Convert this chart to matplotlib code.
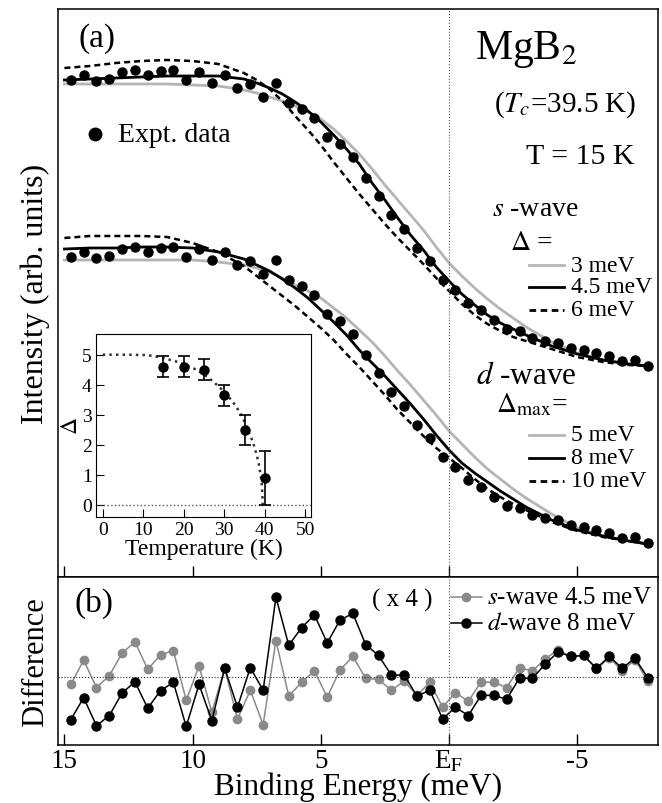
import numpy as np
import matplotlib
matplotlib.use('Agg')
import matplotlib.pyplot as plt
from matplotlib.lines import Line2D

plt.rcParams['font.family'] = ['Liberation Serif', 'DejaVu Serif']
plt.rcParams['mathtext.fontset'] = 'stix'

# expt. points, binding energy (meV)
energy = [14.75, 14.25, 13.75, 13.25, 12.75, 12.25, 11.75, 11.25, 10.75, 10.25,
          9.75, 9.25, 8.75, 8.25, 7.75, 7.25, 6.75, 6.25, 5.75, 5.25,
          4.75, 4.25, 3.75, 3.25, 2.75, 2.25, 1.75, 1.25, 0.75, 0.25,
          -0.25, -0.75, -1.25, -1.75, -2.25, -2.75, -3.25, -3.75, -4.25, -4.75,
          -5.25, -5.75, -6.25, -6.75, -7.25, -7.75]
expt = [4.99, 5.04, 4.98, 5.00, 5.07, 5.09, 5.04, 5.08, 5.09, 4.99,
        5.07, 4.96, 5.04, 4.91, 4.95, 4.82, 4.96, 4.76, 4.70, 4.61,
        4.42, 4.35, 4.22, 4.01, 3.83, 3.64, 3.50, 3.31, 3.18, 2.99,
        2.89, 2.76, 2.69, 2.59, 2.50, 2.48, 2.41, 2.38, 2.36, 2.31,
        2.29, 2.26, 2.23, 2.18, 2.19, 2.13]
d_offset = 1.77   # vertical shift of the d-wave set

# fit curves
e_fit = [15, 14, 13, 12, 11, 10, 9, 8, 7.5, 7, 6.5, 6, 5.5, 5, 4.5, 4, 3.5, 3,
         2.5, 2, 1.5, 1, 0.5, 0, -0.5, -1, -1.5, -2, -2.5, -3, -4, -5, -6, -7, -7.75]
s_3 = [4.95, 4.95, 4.95, 4.95, 4.95, 4.94, 4.93, 4.89, 4.86, 4.82, 4.78, 4.73,
       4.67, 4.60, 4.50, 4.38, 4.25, 4.10, 3.94, 3.79, 3.64, 3.49, 3.32, 3.16,
       3.03, 2.91, 2.80, 2.70, 2.61, 2.52, 2.37, 2.26, 2.19, 2.15, 2.13]
s_45 = [4.99, 5.00, 5.01, 5.02, 5.03, 5.03, 5.03, 5.00, 4.96, 4.91, 4.85, 4.77,
        4.68, 4.57, 4.44, 4.30, 4.15, 3.96, 3.79, 3.61, 3.44, 3.29, 3.12, 2.98,
        2.85, 2.74, 2.64, 2.56, 2.50, 2.44, 2.33, 2.25, 2.19, 2.15, 2.13]
s_6 = [5.11, 5.13, 5.16, 5.18, 5.19, 5.18, 5.15, 5.06, 4.99, 4.90, 4.78, 4.63,
       4.49, 4.34, 4.17, 4.01, 3.85, 3.70, 3.55, 3.41, 3.28, 3.15, 3.01, 2.88,
       2.75, 2.64, 2.55, 2.48, 2.42, 2.38, 2.30, 2.22, 2.17, 2.14, 2.13]
d_5 = [4.96, 4.96, 4.96, 4.96, 4.96, 4.96, 4.94, 4.91, 4.88, 4.84, 4.78, 4.71,
       4.65, 4.58, 4.48, 4.38, 4.26, 4.14, 4.00, 3.85, 3.71, 3.56, 3.41, 3.25,
       3.12, 2.99, 2.87, 2.77, 2.67, 2.58, 2.42, 2.28, 2.20, 2.15, 2.12]
d_8 = [5.07, 5.08, 5.08, 5.09, 5.09, 5.08, 5.04, 4.97, 4.91, 4.85, 4.77, 4.68,
       4.58, 4.46, 4.34, 4.21, 4.06, 3.93, 3.80, 3.66, 3.52, 3.37, 3.21, 3.06,
       2.93, 2.83, 2.74, 2.65, 2.57, 2.49, 2.36, 2.26, 2.20, 2.15, 2.12]
d_10 = [5.18, 5.20, 5.20, 5.20, 5.19, 5.13, 5.04, 4.90, 4.80, 4.70, 4.60, 4.50,
        4.39, 4.28, 4.16, 4.02, 3.89, 3.75, 3.61, 3.46, 3.33, 3.20, 3.08, 2.98,
        2.88, 2.77, 2.67, 2.59, 2.52, 2.46, 2.34, 2.25, 2.19, 2.15, 2.12]

# difference (x4)
diff_s = [-0.73, 1.67, -1.03, 0.13, 2.37, 3.47, 0.77, 2.2, 2.6, -2.3,
          1.1, -3.47, 0.87, -4.13, -1.3, -4.7, 3.6, -1.87, -0.53, 0.6,
          -1.97, 0.7, 2.03, -0.13, -0.23, -1.3, -0.4, -1.8, -0.53, -2.97,
          -1.53, -2.4, -0.47, -0.53, -1.03, 0.93, 0.6, 1.77, 2.7, 2.03,
          2.13, 0.77, 1.93, 0.6, 1.7, -0.4]
diff_d = [-4.2, -2.03, -4.8, -3.8, -1.57, -0.47, -3.07, -1.33, -0.53, -4.87,
          -0.73, -4.3, 0.87, -2.97, 0.93, -1.3, 7.87, 3.13, 4.87, 6.13,
          3.37, 5.63, 6.27, 3.2, 2.13, 0.2, 0.2, -1.87, -1.3, -4.13,
          -2.97, -3.8, -1.8, -1.8, -2.2, -0.07, -0.13, 1.27, 2.47, 2.03,
          2.13, 0.87, 2.03, 0.87, 1.87, -0.07]

# inset: gap vs temperature
temp = [15, 20, 25, 30, 35, 40]
gap = [4.6, 4.6, 4.5, 3.65, 2.5, 0.9]
gap_err = [0.35, 0.35, 0.35, 0.35, 0.5, 0.9]
t_bcs = [0, 5, 10, 12.5, 15, 17.5, 20, 22.5, 25, 27.5, 30, 32, 34, 35, 36, 37,
         38, 38.5, 39, 39.3, 39.5]
gap_bcs = [5.0, 5.0, 4.99, 4.96, 4.88, 4.8, 4.69, 4.54, 4.34, 4.08, 3.76, 3.45,
           3.05, 2.77, 2.43, 2.12, 1.66, 1.37, 0.97, 0.62, 0.0]

xticks = [15, 10, 5, 0, -5]
xticklabels = ['15', '10', '5', r'E$_\mathrm{F}$', '-5']

W, H = 662, 804
fig = plt.figure(figsize=(W / 100, H / 100), dpi=100)


def fx(x):
	return x / W


def fy(y):
	return 1 - y / H


light = '#b5b5b5'
dash = (0, (2.4, 1.6))

ax = fig.add_axes([fx(58), fy(578), fx(600), 568 / H])
ax.plot(e_fit, s_3, color=light, lw=2)
ax.plot(e_fit, s_45, color='black', lw=2)
ax.plot(e_fit, s_6, color='black', lw=1.8, ls=dash)
ax.plot(e_fit, np.array(d_5) - d_offset, color=light, lw=2)
ax.plot(e_fit, np.array(d_8) - d_offset, color='black', lw=2)
ax.plot(e_fit, np.array(d_10) - d_offset, color='black', lw=1.8, ls=dash)
ax.plot(energy, expt, 'o', color='black', ms=6.5)
ax.plot(energy, np.array(expt) - d_offset, 'o', color='black', ms=6.5)
ax.axvline(0, color='#555555', lw=0.8, ls=':')
ax.set_xlim(15.25, -8.15)
ax.set_ylim(0.02, 5.70)
ax.set_xticks(xticks)
ax.set_xticklabels([])
ax.set_yticks([])
ax.tick_params(axis='x', direction='in', length=8, width=1)
ax.set_ylabel('Intensity (arb. units)', fontsize=23, labelpad=6)
for sp in ax.spines.values():
	sp.set_linewidth(1.1)

# inset
ax_in = fig.add_axes([fx(96), fy(518), fx(215), 183 / H])
ax_in.plot(t_bcs, gap_bcs, color='#333333', lw=1.8, ls=':')
ax_in.axhline(0, color='#555555', lw=1.0, ls=':')
ax_in.errorbar(temp, gap, yerr=gap_err, fmt='o', color='black', ms=6.5,
               capsize=4, elinewidth=1.2, capthick=1.2)
ax_in.set_xlim(-1.65, 51.4)
ax_in.set_ylim(-0.41, 5.69)
ax_in.set_xticks([0, 10, 20, 30, 40, 50])
ax_in.set_yticks([0, 1, 2, 3, 4, 5])
ax_in.tick_params(direction='in', length=6, labelsize=14, pad=3)
ax_in.set_xlabel('Temperature (K)', fontsize=17, labelpad=0)
ax_in.set_ylabel(r'$\Delta$', fontsize=17, labelpad=0)

# bottom panel
ax2 = fig.add_axes([fx(58), fy(746), fx(600), 168 / H])
ax2.plot(energy, diff_s, '-o', color='#8a8a8a', lw=1.1, ms=6)
ax2.plot(energy, diff_d, '-o', color='black', lw=1.1, ms=6.5)
ax2.axhline(0, color='#333333', lw=0.8, ls=':')
ax2.axvline(0, color='#555555', lw=0.8, ls=':')
ax2.set_xlim(15.25, -8.15)
ax2.set_ylim(-6.7, 9.87)
ax2.set_yticks([])
ax2.set_xticks(xticks)
ax2.set_xticklabels(xticklabels, fontsize=19.5)
ax2.tick_params(axis='x', direction='in', length=8, width=1, pad=2)
ax2.set_ylabel('Difference', fontsize=22, labelpad=6)
for sp in ax2.spines.values():
	sp.set_linewidth(1.1)
fig.text(fx(358), fy(795), 'Binding Energy (meV)', fontsize=22.5,
         ha='center', va='baseline')

# annotations, top panel
fig.text(fx(78), fy(39), '(a)', fontsize=24, va='center')
fig.text(fx(475), fy(50), r'MgB$_2$', fontsize=30, va='center')
fig.text(fx(494), fy(105), r'($T_c$=39.5 K)', fontsize=21, va='center')
fig.text(fx(526), fy(157), 'T = 15 K', fontsize=21.5, va='center')
fig.text(fx(492), fy(210), r'$s$ -wave', fontsize=20, va='center')
fig.text(fx(510), fy(244), r'$\Delta$ =', fontsize=20, va='center')
fig.text(fx(476), fy(377), r'$d$ -wave', fontsize=22.5, va='center')
fig.text(fx(496), fy(405), r'$\Delta_{\rm max}$=', fontsize=20, va='center')
fig.add_artist(Line2D([fx(95)], [fy(135)], marker='o', color='black', ms=9))
fig.text(fx(118), fy(135), 'Expt. data', fontsize=20, va='center')

leg_s = [(266, light, '-', '3 meV'), (288, 'black', '-', '4.5 meV'),
         (311, 'black', dash, '6 meV')]
leg_d = [(436, light, '-', '5 meV'), (459, 'black', '-', '8 meV'),
         (482, 'black', dash, '10 meV')]
for y, c, st, lab in leg_s + leg_d:
	fig.add_artist(Line2D([fx(529), fx(564)], [fy(y), fy(y)], color=c, ls=st, lw=2))
	fig.text(fx(571), fy(y), lab, fontsize=17, va='center')

# annotations, bottom panel
fig.text(fx(74), fy(603), '(b)', fontsize=24, va='center')
fig.text(fx(372), fy(600), '( x 4 )', fontsize=18, va='center')
fig.add_artist(Line2D([fx(451), fx(466), fx(482)], [fy(598)] * 3, color='#8a8a8a',
                      lw=1.1, marker='o', ms=6, markevery=[1]))
fig.add_artist(Line2D([fx(451), fx(466), fx(482)], [fy(624)] * 3, color='black',
                      lw=1.1, marker='o', ms=6.5, markevery=[1]))
fig.text(fx(487), fy(598), r'$s$-wave 4.5 meV', fontsize=18, va='center')
fig.text(fx(487), fy(624), r'$d$-wave 8 meV', fontsize=18, va='center')

fig.savefig('out.png', dpi=100)
